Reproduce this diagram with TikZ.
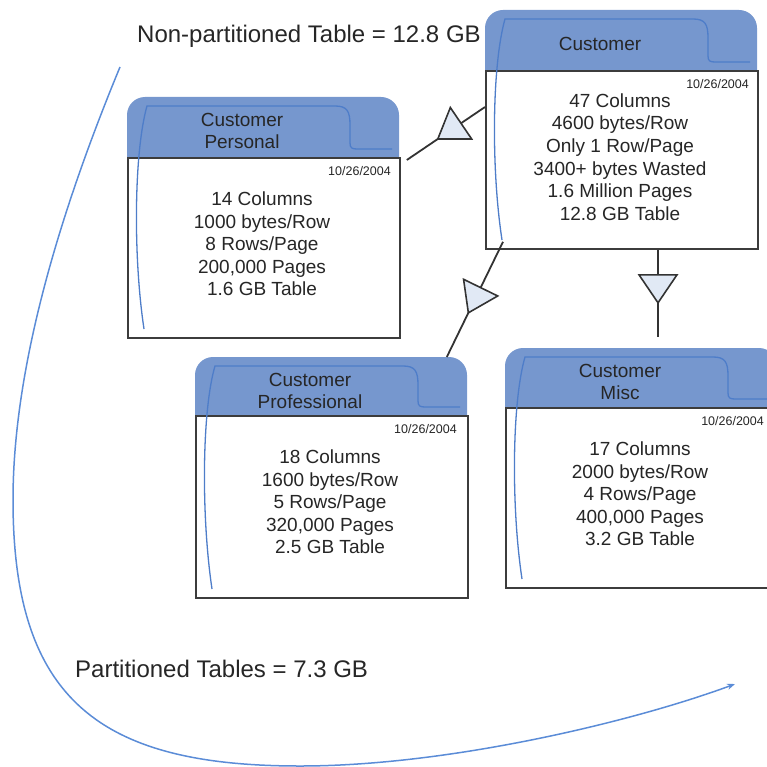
\documentclass[tikz,border=0pt]{standalone}
\usepackage{fontspec}
\setmainfont{Liberation Sans}
\usetikzlibrary{decorations.markings,arrows.meta,calc}
\definecolor{tabblue}{HTML}{7697CE}
\definecolor{innerblue}{HTML}{4E7DC9}
\definecolor{curveblue}{HTML}{5B8CD7}
\definecolor{bordergray}{HTML}{3C3C3C}
\definecolor{linegray}{HTML}{333333}
\definecolor{trifill}{HTML}{E1E9F5}
\definecolor{textgray}{HTML}{262626}
\tikzset{
  body/.style={draw=bordergray, line width=1.8pt, fill=white, minimum width=272pt, inner sep=0pt, rectangle},
  innerline/.style={draw=innerblue, line width=1.3pt},
  tabtitle/.style={align=center, inner sep=0pt, text=textgray, font=\fontsize{19}{21.5}\selectfont},
  datelabel/.style={inner sep=0pt, text=textgray, font=\fontsize{12.5}{14}\selectfont},
  bodytext/.style={align=center, inner sep=0pt, text=textgray, font=\fontsize{19}{22.6}\selectfont},
  biglabel/.style={inner sep=0pt, text=textgray, font=\fontsize{24}{28}\selectfont},
  conn/.style={draw=linegray, line width=1.8pt},
  trishape/.style={draw=linegray, line width=1.6pt, fill=trifill, line join=miter},
  tri at/.style={postaction={decorate, decoration={markings, mark=at position #1 with {\draw[trishape] (0,-19) -- (28,0) -- (0,19) -- cycle;}}}},
  bigcurve/.style={draw=curveblue, line width=1.5pt}
}
% #1 name, #2 left, #3 tab top, #4 tab height, #5 body height, #6 title, #7 body text, #8 date x (local)
\newcommand\dbtable[8]{%
  \begin{scope}[shift={(#2,#3)}]
    \fill[tabblue, rounded corners=18pt] (0,0) rectangle (272,{#4+25});
    \node[body, minimum height=#5pt, anchor=north west] (#1) at (0,#4) {};
    \draw[innerline] (17,{#4+#5-8}) .. controls (6,{#4+#5*0.55}) and (7,{#4-5}) .. (20,9)
      -- (208,9) .. controls (220,9) and (223,14) .. (223,28)
      -- (223,{#4-14}) .. controls (223,{#4-9}) and (225,{#4-8}) .. (230,{#4-8}) -- (265,{#4-8});
    \node[tabtitle] (#1-title) at (115,34) {#6};
    \node[datelabel, anchor=east] (#1-date) at (#8,{#4+14}) {10/26/2004};
    \node[bodytext] (#1-text) at (135,{#4+87}) {#7};
  \end{scope}}
\begin{document}
\begin{tikzpicture}[x=1pt, y=-1pt]
\useasboundingbox (0,0) rectangle (766,767);
\node[biglabel, anchor=base west] (nonpart) at (137,43) {Non-partitioned Table = 12.8 GB};
\node[biglabel, anchor=base west] (part) at (75,677) {Partitioned Tables = 7.3 GB};

\dbtable{cust}{485}{10}{60}{178}{Customer}{47 Columns\\4600 bytes/Row\\Only 1 Row/Page\\3400+ bytes Wasted\\1.6 Million Pages\\12.8 GB Table}{264}
\dbtable{pers}{127}{97}{60}{180}{Customer\\Personal}{14 Columns\\1000 bytes/Row\\8 Rows/Page\\200,000 Pages\\1.6 GB Table}{264}
\dbtable{prof}{195}{357}{58}{182}{Customer\\Professional}{18 Columns\\1600 bytes/Row\\5 Rows/Page\\320,000 Pages\\2.5 GB Table}{262}
\dbtable{misc}{505}{348}{59}{180}{Customer\\Misc}{17 Columns\\2000 bytes/Row\\4 Rows/Page\\400,000 Pages\\3.2 GB Table}{259}

\coordinate (c1a) at ($(cust.north west)+(0,37)$);
\coordinate (c1b) at ($(pers.north east)+(6,3)$);
\coordinate (c2a) at ($(cust.south west)+(18,-8)$);
\coordinate (c2b) at ($(prof.north east)+(-22,-58)$);
\coordinate (c3a) at ($(cust.south west)+(173,0)$);
\coordinate (c3b) at ($(misc.north west)+(153,-70)$);
\draw[conn, tri at=29pt] (c1a) -- (c1b);
\draw[conn, tri at=51pt] (c2a) -- (c2b);
\draw[conn, tri at=25pt] (c3a) -- (c3b);

\coordinate (cstart) at (120,67);
\coordinate (cend) at (735,684);
\draw[bigcurve, -{Stealth[length=8pt, width=6pt]}] (cstart) .. controls (65,200) and (13,360) .. (13,500)
  .. controls (13,700) and (100,766) .. (300,766)
  .. controls (450,766) and (635,721) .. (cend);
\end{tikzpicture}
\end{document}
